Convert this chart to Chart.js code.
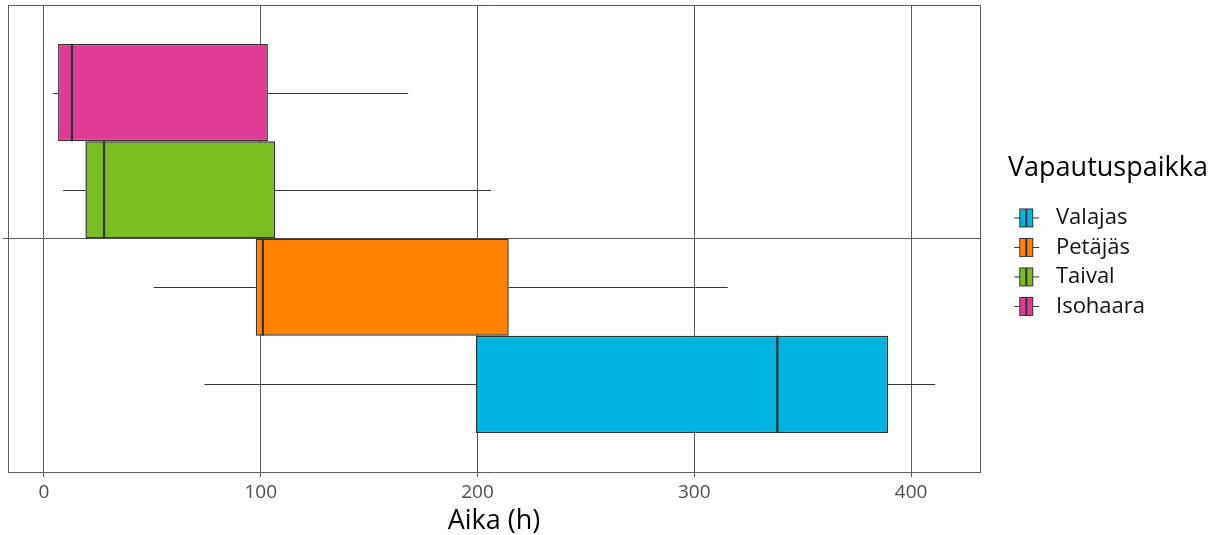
<!DOCTYPE html>
<html>
<head>
<meta charset="utf-8">
<script src="https://cdn.jsdelivr.net/npm/chart.js@4.4.1/dist/chart.umd.min.js"></script>
<style>
  html, body { margin: 0; padding: 0; background: #fff; }
  #wrap { width: 1220px; height: 535px; }
</style>
</head>
<body>
<div id="wrap"><canvas id="boxChart" width="1220" height="535"></canvas></div>
<script>
// boxplot stats per release site (top to bottom in the panel)
const groups = ['Isohaara', 'Taival', 'Petäjäs', 'Valajas'];
const whiskerLow = [4.2, 8.8, 50.6, 74.0];
const lowerQuartile = [6.5, 19.1, 97.7, 199.2];
const medians = [12.9, 27.7, 101.0, 338.3];
const upperQuartile = [103.3, 106.6, 214.4, 389.4];
const whiskerHigh = [168.0, 206.2, 315.4, 411.1];
const colors = ['#E03C96', '#78BE21', '#FF8200', '#00B4E0'];
const xTicks = [0, 100, 200, 300, 400];

const FONT = 'Open Sans';
const LINE = '#5a5a5a';
const DARK = '#333333';
const PANEL_RIGHT = 980;

// little boxplot glyph used as the legend key
function keyIcon(color) {
    const c = document.createElement('canvas');
    c.width = 34;
    c.height = 21;
    const g = c.getContext('2d');
    g.strokeStyle = DARK;
    g.lineWidth = 1;
    g.beginPath();
    g.moveTo(1, 10.5); g.lineTo(26, 10.5);
    g.stroke();
    g.fillStyle = color;
    g.fillRect(6, 1, 14, 19);
    g.strokeRect(6.5, 1.5, 13, 18);
    g.lineWidth = 2;
    g.beginPath();
    g.moveTo(13, 1); g.lineTo(13, 20);
    g.stroke();
    return c;
}

const whiskers = {
    id: 'whiskers',
    afterDatasetsDraw(chart) {
        const ctx = chart.ctx;
        const x = chart.scales.x;
        ctx.save();
        ctx.strokeStyle = DARK;
        chart.data.datasets.forEach((ds, i) => {
            const bar = chart.getDatasetMeta(i).data[0];
            const { y, height } = bar.getProps(['y', 'height'], true);
            const yy = Math.round(y) + 0.5;
            ctx.lineWidth = 1.2;
            ctx.beginPath();
            ctx.moveTo(x.getPixelForValue(whiskerLow[i]), yy);
            ctx.lineTo(x.getPixelForValue(lowerQuartile[i]), yy);
            ctx.moveTo(x.getPixelForValue(upperQuartile[i]), yy);
            ctx.lineTo(x.getPixelForValue(whiskerHigh[i]), yy);
            ctx.stroke();
            ctx.lineWidth = 2.2;
            const mx = x.getPixelForValue(medians[i]);
            ctx.beginPath();
            ctx.moveTo(mx, y - height / 2);
            ctx.lineTo(mx, y + height / 2);
            ctx.stroke();
        });
        ctx.restore();
    }
};

// top and right sides of the panel frame (left/bottom come from the axes)
const panelBorder = {
    id: 'panelBorder',
    afterDatasetsDraw(chart) {
        const { ctx, chartArea: a } = chart;
        ctx.save();
        ctx.strokeStyle = LINE;
        ctx.lineWidth = 1;
        ctx.beginPath();
        ctx.moveTo(a.left, a.top + 0.5);
        ctx.lineTo(a.right + 0.5, a.top + 0.5);
        ctx.lineTo(a.right + 0.5, a.bottom + 1);
        ctx.stroke();
        ctx.restore();
    }
};

// push the legend a bit away from the panel and give the title room
const legendGap = {
    id: 'legendGap',
    afterLayout(chart) {
        const lg = chart.legend;
        lg.left = chart.chartArea.right + 28;
        lg.right = chart.width;
    }
};

const datasets = groups.map((name, i) => ({
    label: name,
    data: [[lowerQuartile[i], upperQuartile[i]]],
    backgroundColor: colors[i],
    borderColor: DARK,
    borderWidth: 1.5,
    borderSkipped: false,
    barPercentage: 1,
    categoryPercentage: 0.833,
}));

const chart = new Chart(document.getElementById('boxChart'), {
    type: 'bar',
    data: { labels: [''], datasets },
    plugins: [whiskers, panelBorder, legendGap],
    options: {
        indexAxis: 'y',
        responsive: false,
        animation: false,
        layout: { padding: { top: 5, right: 90, bottom: 0, left: 0 } },
        scales: {
            x: {
                type: 'linear',
                min: -16.6,
                max: 431.8,
                afterBuildTicks: (scale) => {
                    scale.ticks = xTicks.map((v) => ({ value: v }));
                },
                afterFit: (scale) => { scale.height = 63; },
                grid: { color: LINE, lineWidth: 1, tickLength: 5, drawTicks: true },
                border: { display: true, color: LINE, width: 1 },
                ticks: {
                    color: '#4d4d4d',
                    padding: 4,
                    font: { family: FONT, size: 19 },
                },
                title: {
                    display: true,
                    text: 'Aika (h)',
                    color: '#000',
                    font: { family: FONT, size: 27, lineHeight: 1 },
                    padding: 0,
                },
            },
            y: {
                type: 'category',
                afterFit: (scale) => { scale.width = 8; },
                grid: { color: LINE, lineWidth: 1, offset: false, tickLength: 5 },
                border: { display: true, color: LINE, width: 1 },
                ticks: { display: true, padding: 0, font: { size: 1 } },
            },
        },
        plugins: {
            tooltip: { enabled: false },
            legend: {
                position: 'right',
                align: 'start',
                reverse: true,
                title: {
                    display: true,
                    text: 'Vapautuspaikka',
                    position: 'start',
                    color: '#000',
                    font: { family: FONT, size: 27 },
                    padding: { top: 150, bottom: 12 },
                },
                labels: {
                    usePointStyle: true,
                    pointStyleWidth: 29.5,
                    padding: 7.5,
                    color: '#111',
                    font: { family: FONT, size: 22 },
                    generateLabels(c) {
                        const items = Chart.defaults.plugins.legend.labels.generateLabels(c);
                        items.forEach((it) => { it.pointStyle = keyIcon(colors[it.datasetIndex]); });
                        return items;
                    },
                },
            },
        },
    },
});

// make the panel end where the reference panel ends
chart.options.layout.padding.right += chart.chartArea.right - PANEL_RIGHT;
chart.update();
</script>
</body>
</html>
